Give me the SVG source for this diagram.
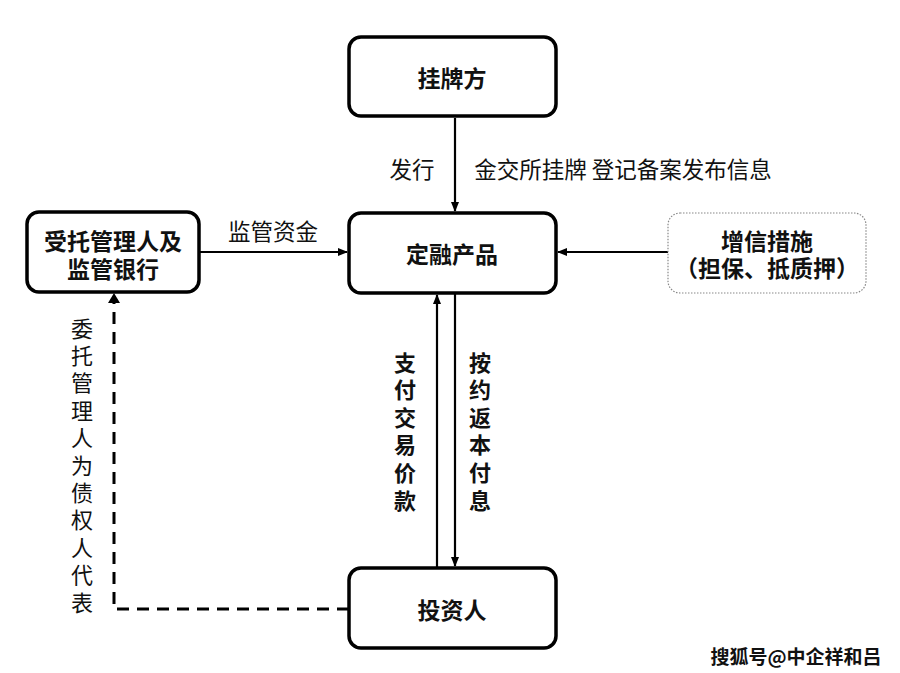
<svg xmlns="http://www.w3.org/2000/svg" width="900" height="673" viewBox="0 0 900 673">
<defs>
<style>
.box{fill:#fff;stroke:#000;stroke-width:3.5}
.soft{fill:#fff;stroke:#888;stroke-width:1.2;stroke-dasharray:1.5 1.5}
.t{font-family:"Noto Sans CJK SC","Noto Sans",sans-serif;font-size:22.5px;fill:#111;text-anchor:middle;dominant-baseline:central}
.b{font-weight:bold;font-size:23px}
.v{writing-mode:vertical-rl;text-orientation:upright}
.line{stroke:#000;stroke-width:2.2;fill:none}
.dash{stroke:#000;stroke-width:3;fill:none;stroke-dasharray:12 8}
</style>
<marker id="ah" markerWidth="10" markerHeight="10" refX="9" refY="5" orient="auto" markerUnits="userSpaceOnUse">
<path d="M0,1 L10,5 L0,9 Z" fill="#000"/>
</marker>
</defs>
<rect width="900" height="673" fill="#fff"/>
<g id="connectors">
<line class="line" x1="455" y1="118" x2="455" y2="211" marker-end="url(#ah)"/>
<line class="line" x1="199" y1="252" x2="347" y2="252" marker-end="url(#ah)"/>
<line class="line" x1="668" y1="252" x2="558" y2="252" marker-end="url(#ah)"/>
<line class="line" x1="437" y1="568" x2="437" y2="295" marker-end="url(#ah)"/>
<line class="line" x1="455" y1="293" x2="455" y2="566" marker-end="url(#ah)"/>
<polyline class="dash" points="349,609 114,609 114,302"/>
<path d="M108,303 L114,293 L120,303 Z" fill="#000"/>
<text class="t" x="412" y="168">发行</text>
<text class="t" x="623" y="168">金交所挂牌 登记备案发布信息</text>
<text class="t" x="273" y="230">监管资金</text>
<text class="t b v" x="405" y="434" style="font-size:22px;letter-spacing:5.6px">支付交易价款</text>
<text class="t b v" x="480" y="434" style="font-size:22px;letter-spacing:5.6px">按约返本付息</text>
<text class="t v" x="82" y="468" style="font-size:22px;letter-spacing:5.4px">委托管理人为债权人代表</text>
</g>
<g id="guapaifang">
<rect class="box" x="349" y="37" width="207" height="79" rx="12"/>
<text class="t b" x="452" y="77">挂牌方</text>
</g>
<g id="dingrong">
<rect class="box" x="349" y="213" width="207" height="80" rx="12"/>
<text class="t b" x="452" y="253">定融产品</text>
</g>
<g id="shoutuo">
<rect class="box" x="27" y="212" width="172" height="80" rx="12"/>
<text class="t b" x="113" y="240">受托管理人及<tspan x="113" dy="28">监管银行</tspan></text>
</g>
<g id="zengxin">
<rect class="soft" x="668" y="213" width="198" height="80" rx="12"/>
<text class="t b" x="767" y="240">增信措施<tspan x="767" dy="27">（担保、抵质押）</tspan></text>
</g>
<g id="touziren">
<rect class="box" x="349" y="568" width="207" height="80" rx="12"/>
<text class="t b" x="452" y="609">投资人</text>
</g>
<text x="796" y="655" font-family="Noto Sans CJK SC,sans-serif" font-size="19" font-weight="bold" text-anchor="middle" dominant-baseline="central" fill="#111" stroke="#fff" stroke-width="3" paint-order="stroke">搜狐号@中企祥和吕</text>
</svg>
